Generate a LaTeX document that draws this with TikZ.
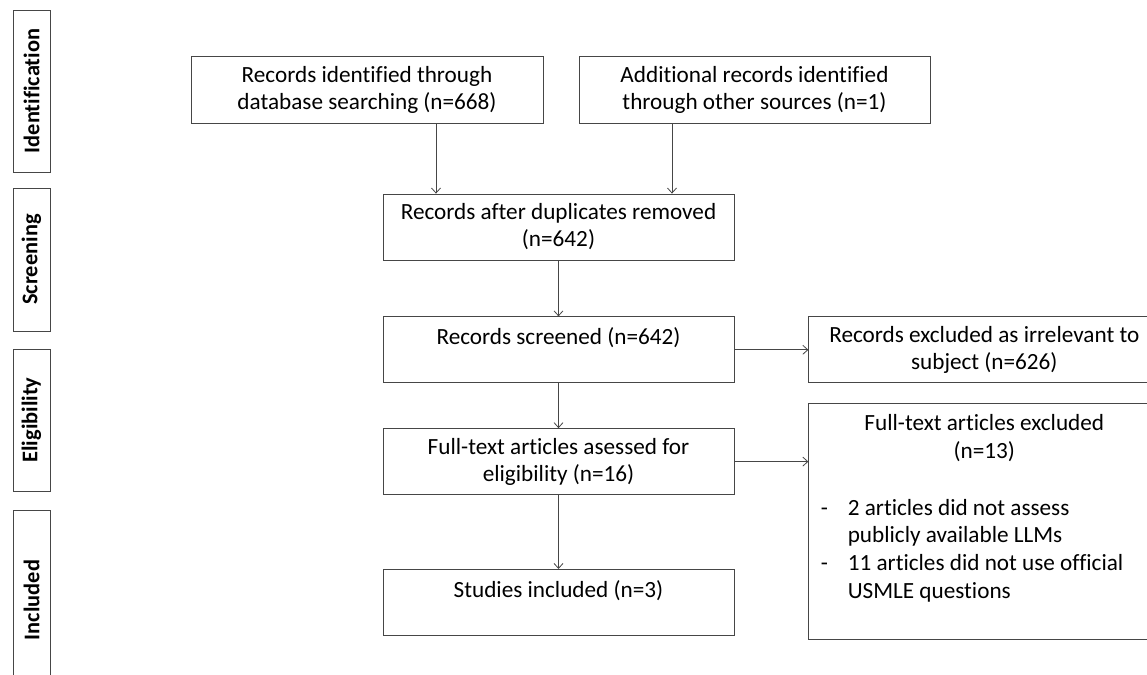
\documentclass[tikz,border=0pt]{standalone}
\usepackage{fontspec}
\setmainfont{Carlito}[Ligatures=NoCommon]
\usetikzlibrary{arrows.meta, positioning}
\definecolor{my_gray}{RGB}{70, 70, 70}
\tikzset {
  box/.style = {draw=my_gray, thin, rectangle, align=center, inner sep=2pt, minimum width=175.5pt, minimum height=33pt, font=\fontsize{11.6}{13.5}\selectfont},
  stage/.style = {draw=my_gray, thin, rectangle, rotate=90, minimum height=18.5pt, inner sep=1pt, font=\bfseries\fontsize{11.2}{13}\selectfont},
  line/.style = {-{Straight Barb[length=2.5pt, width=4.5pt]}, thin, color=my_gray}
}

\begin{document}
\begin{tikzpicture}
    \path[use as bounding box, clip] (0,0) rectangle (573.5pt,337.5pt);

    % stages on the left
    \node[stage, minimum width=81pt] (ident) at (15.75pt,292pt) {Identification};
    \node[stage, minimum width=71.5pt] (screen) at (15.75pt,207.75pt) {Screening};
    \node[stage, minimum width=71pt] (elig) at (15.75pt,127.5pt) {Eligibility};
    \node[stage, minimum width=90pt] (incl) at (15.75pt,37.5pt) {Included};

    \node[box, minimum width=176pt, minimum height=33.5pt] (db) at (183.5pt,292.75pt) {Records identified through\\database searching (n=668)};
    \node[box, minimum width=175.5pt, minimum height=33.5pt] (other) at (377.25pt,292.75pt) {Additional records identified\\through other sources (n=1)};

    \node[box] (dup) at (279.25pt,224pt) {Records after duplicates removed\\(n=642)};
    \node[box, below=28pt of dup] (screened) {Records screened (n=642)\\\mbox{}};
    \node[box, below=22.5pt of screened] (fulltext) {Full-text articles asessed for\\eligibility (n=16)};
    \node[box, below=37pt of fulltext] (studies) {Studies included (n=3)\\\mbox{}};

    \node[box, right=37pt of screened] (excl) {Records excluded as irrelevant to\\subject (n=626)};
    \node[box, inner sep=0pt, below=10pt of excl.south west, anchor=north west,
          font=\fontsize{11.6}{13.9}\selectfont] (ftexcl) {%
      \begin{minipage}[c][118pt][t]{175.5pt}
        \vspace{5.5pt}
        \centering Full-text articles excluded\\(n=13)\par
        \vspace{16pt}
        \raggedright\hspace*{6pt}%
        \begin{tabular}{@{}p{13.5pt}@{}l@{}}
          -& 2 articles did not assess\\
           & publicly available LLMs\\
          -& 11 articles did not use official\\
           & USMLE questions
        \end{tabular}
      \end{minipage}};

    \draw[line] ([xshift=34.5pt]db.south) -- ([xshift=34.5pt]db.south |- dup.north);
    \draw[line] ([xshift=-41.25pt]other.south) -- ([xshift=-41.25pt]other.south |- dup.north);
    \draw[line] (dup) -- (screened);
    \draw[line] (screened) -- (fulltext);
    \draw[line] (fulltext) -- (studies);
    \draw[line] (screened.east) -- (excl.west);
    \draw[line] (fulltext.east) -- (fulltext.east -| ftexcl.west);
\end{tikzpicture}
\end{document}
